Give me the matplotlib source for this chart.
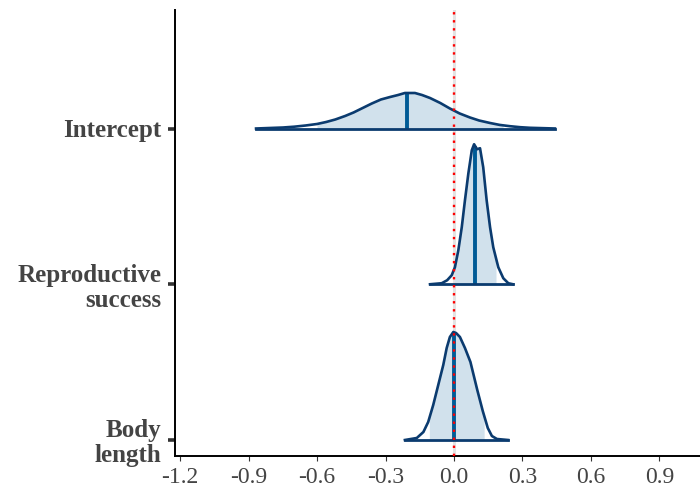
import numpy as np
import matplotlib.pyplot as plt

plt.rcParams['font.family'] = ['Liberation Serif', 'DejaVu Serif']
plt.rcParams['axes.unicode_minus'] = False

# parameters from bottom to top
params = ["Body\nlength", "Reproductive\nsuccess", "Intercept"]

# posterior density outlines (value, relative height)
body_x = [-0.215, -0.163, -0.134, -0.113, -0.091, -0.069, -0.047, -0.032, -0.018, -0.003,
          0.009, 0.026, 0.048, 0.072, 0.102, 0.126, 0.148, 0.166, 0.188, 0.237]
body_d = [0, 2, 8, 18, 35, 55, 75, 92, 103, 108,
          107, 103, 92, 78, 50, 29, 12, 4, 1, 0]

repro_x = [-0.105, -0.054, -0.030, -0.010, 0.004, 0.019, 0.034, 0.048, 0.063, 0.078,
           0.088, 0.101, 0.114, 0.128, 0.143, 0.158, 0.172, 0.194, 0.216, 0.238, 0.258]
repro_d = [0, 1, 4, 9, 17, 34, 57, 84, 111, 134,
           140, 135, 136, 117, 84, 57, 37, 17, 6, 1, 0]

icpt_x = [-0.867, -0.749, -0.700, -0.650, -0.600, -0.560, -0.520, -0.477, -0.440, -0.400,
          -0.360, -0.320, -0.280, -0.245, -0.215, -0.171, -0.140, -0.105, -0.060, -0.018,
          0.025, 0.070, 0.110, 0.158, 0.200, 0.245, 0.290, 0.333, 0.442]
icpt_d = [0, 1, 1.8, 3, 4.5, 6.5, 9, 12.5, 16, 20.5,
          25, 29, 31.5, 33.5, 35.5, 35.5, 33.5, 30.5, 25.5, 20,
          15, 11, 8, 5.5, 3.6, 2.3, 1.3, 0.7, 0]

xs = [body_x, repro_x, icpt_x]
ds = [body_d, repro_d, icpt_d]

medians = [0.0, 0.092, -0.205]
inner_lo = [-0.108, 0.002, -0.600]
inner_hi = [0.132, 0.184, 0.215]

tick_vals = [-1.2, -0.9, -0.6, -0.3, 0.0, 0.3, 0.6, 0.9]
tick_labels = ["-1.2", "-0.9", "-0.6", "-0.3", "0.0", "0.3", "0.6", "0.9"]

light = "#d1e1ec"
outline = "#0b3b6f"
mid = "#005b96"

fig = plt.figure(figsize=(7, 4.93), dpi=100)
ax = fig.add_axes([175 / 700, 1 - 456 / 493, 525 / 700, 446 / 493])

row_px = 155.75
for i in range(len(params)):
    x = np.array(xs[i])
    h = np.array(ds[i]) / row_px
    # inner interval shading
    mask = (x > inner_lo[i]) & (x < inner_hi[i])
    xi = np.concatenate([[inner_lo[i]], x[mask], [inner_hi[i]]])
    hi = np.interp(xi, x, h)
    ax.fill_between(xi, i, i + hi, color=light, lw=0, zorder=2)
    # median line
    hm = np.interp(medians[i], x, h)
    ax.plot([medians[i], medians[i]], [i, i + hm], color=mid, lw=2.8,
            solid_capstyle='butt', zorder=3)
    # outline and baseline
    ax.plot(x, i + h, color=outline, lw=1.9, zorder=4, solid_joinstyle='round')
    ax.plot([x[0], x[-1]], [i, i], color=outline, lw=2.0, zorder=4)

ax.axvline(0, color="#e3e3e3", lw=2.2, zorder=1)
ax.axvline(0, color="red", lw=1.7, ls=(0, (1, 2.4)), zorder=5)

ax.set_xlim(-1.222, 1.0775)
ax.set_ylim(-16 / row_px, 2 + 118.5 / row_px)

ax.set_xticks(tick_vals)
ax.set_xticklabels(tick_labels, fontsize=17, color="#444444")
ax.set_yticks(range(len(params)))
ax.set_yticklabels(params, fontsize=18, fontweight='bold', color="#444444",
                   ha='right', linespacing=1.1)

ax.tick_params(axis='x', length=3.6, width=0.8, color="#333333", pad=4.5)
ax.tick_params(axis='y', length=5, width=2.6, color="#333333", pad=5)

for side in ['top', 'right']:
    ax.spines[side].set_visible(False)
for side in ['left', 'bottom']:
    ax.spines[side].set_linewidth(1.4)
    ax.spines[side].set_color("black")

fig.savefig("out.png", dpi=100)
